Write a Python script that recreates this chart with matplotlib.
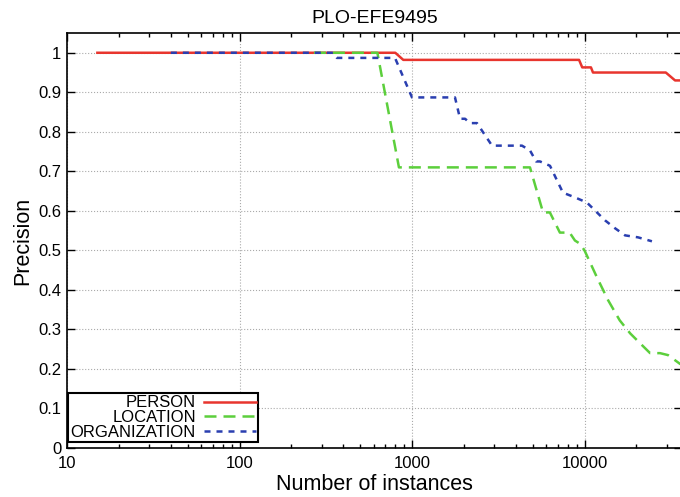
import matplotlib
matplotlib.use('Agg')
import matplotlib.pyplot as plt
from matplotlib.ticker import LogLocator, NullFormatter

plt.rcParams['font.family'] = ['Liberation Sans', 'DejaVu Sans']

# data (step curves)
person_x = [15, 800, 890, 9300, 9700, 10900, 11200, 29600, 33500, 36000]
person_y = [1.0, 1.0, 0.982, 0.982, 0.963, 0.963, 0.95, 0.95, 0.93, 0.93]

location_x = [270, 630, 840, 4700, 4830, 5750, 6300, 7200, 8200, 8800, 9400, 10000,
              11800, 13700, 16000, 18400, 21000, 24000, 27400, 30500, 33500, 36000]
location_y = [1.0, 1.0, 0.71, 0.71, 0.71, 0.596, 0.596, 0.545, 0.545, 0.525, 0.517, 0.50,
              0.432, 0.374, 0.323, 0.29, 0.265, 0.24, 0.24, 0.235, 0.222, 0.212]

org_x = [40, 348, 367, 797, 1000, 1775, 1900, 2030, 2170, 2380, 2910, 4340, 4830, 5240,
         5520, 6310, 6930, 7500, 8810, 10330, 11500, 13150, 15030, 17180, 20420, 24600]
org_y = [1.0, 1.0, 0.987, 0.987, 0.887, 0.887, 0.833, 0.833, 0.822, 0.822, 0.765, 0.765,
         0.753, 0.725, 0.725, 0.714, 0.677, 0.646, 0.634, 0.621, 0.601, 0.576, 0.556,
         0.538, 0.533, 0.523]

yticks = [0, 0.1, 0.2, 0.3, 0.4, 0.5, 0.6, 0.7, 0.8, 0.9, 1]
ytick_labels = ['0', '0.1', '0.2', '0.3', '0.4', '0.5', '0.6', '0.7', '0.8', '0.9', '1']
xticks = [10, 100, 1000, 10000]
xtick_labels = ['10', '100', '1000', '10000']

fig = plt.figure(figsize=(6.8, 4.97), dpi=100)
ax = fig.add_axes([67/680, 1-448/497, 615/680, 415/497])

lw = 1.8
ax.plot(person_x, person_y, color='#e8352e', lw=lw, label='PERSON')
l2, = ax.plot(location_x, location_y, color='#5ccf3c', lw=lw, label='LOCATION')
l2.set_dashes([4.8, 2.8])
l3, = ax.plot(org_x, org_y, color='#2a3fb0', lw=lw, label='ORGANIZATION')
l3.set_dashes([2.4, 2.4])

ax.set_xscale('log')
ax.set_xlim(10, 10**(1 + 615/172.5))
ax.set_ylim(0, 1.05)
ax.set_xticks(xticks)
ax.set_xticklabels(xtick_labels)
ax.xaxis.set_minor_locator(LogLocator(base=10, subs=range(2, 10)))
ax.xaxis.set_minor_formatter(NullFormatter())
ax.set_yticks(yticks)
ax.set_yticklabels(ytick_labels)

ax.tick_params(which='both', direction='in', top=True, right=True, labelsize=12, width=1)
ax.tick_params(which='major', length=6)
ax.tick_params(axis='x', which='major', pad=6)
ax.tick_params(axis='y', which='major', pad=4)
ax.tick_params(which='minor', length=3)
ax.grid(True, which='major', color='#aaaaaa', linestyle=':', linewidth=0.8)
for s in ax.spines.values():
    s.set_linewidth(1.2)

ax.set_title('PLO-EFE9495', fontsize=14, pad=7)
ax.set_xlabel('Number of instances', fontsize=15.5, labelpad=2)
ax.set_ylabel('Precision', fontsize=15.5, labelpad=4)

leg = ax.legend(loc='lower left', bbox_to_anchor=(0.002, 0.014), borderaxespad=0,
                markerfirst=False, fancybox=False, edgecolor='black', framealpha=1,
                fontsize=12, handlelength=3.1, handletextpad=0.5, labelspacing=-0.02,
                borderpad=0.15)
leg.get_frame().set_linewidth(1.5)

fig.savefig('out.png', dpi=100)
